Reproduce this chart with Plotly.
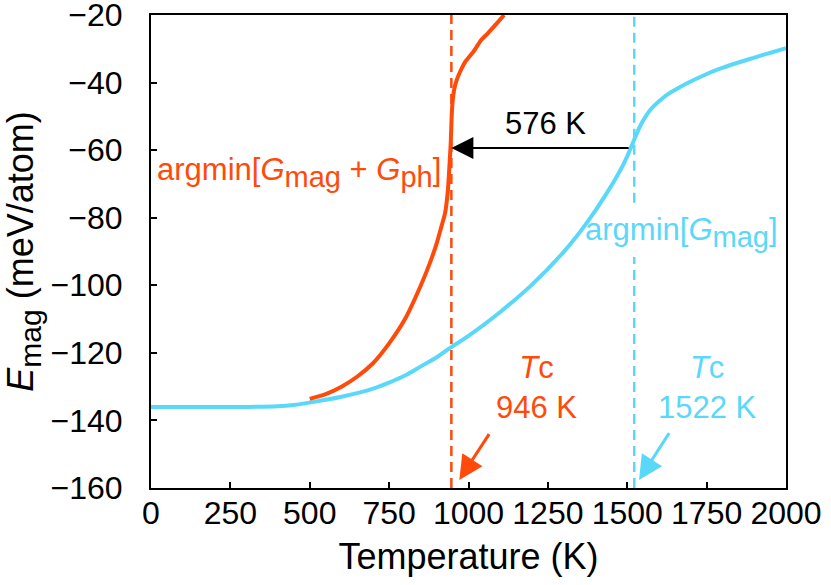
import plotly.graph_objects as go

# ---- data ----
T_mag = [0, 100, 200, 300, 400, 450, 500, 600, 700, 750, 800, 850, 900, 946, 1000,
         1100, 1200, 1300, 1372, 1435, 1488, 1540, 1560, 1577, 1600, 1624, 1650,
         1687, 1740, 1792, 1900, 2000]
E_mag = [-136, -136, -136, -136, -135.8, -135.4, -134.7, -133.0, -130.6, -128.8,
         -126.7, -124.0, -121.3, -118.3, -115.0, -107.9, -99.8, -90.1, -81.6, -72.8,
         -64.2, -53.0, -49.7, -47.6, -45.5, -43.7, -42.2, -40.3, -37.9, -35.9,
         -32.6, -29.8]

T_ph = [500, 550, 600, 650, 700, 750, 800, 850, 880, 900, 915, 926, 935, 941, 944,
        947, 950, 955, 963, 975, 990, 1015, 1040, 1060, 1089, 1112]
E_ph = [-133.6, -132.2, -130.0, -127.0, -123.0, -117.2, -110.0, -100.0, -93.0, -87.5,
        -82.5, -78.7, -72.0, -63.0, -58.0, -50.0, -45.5, -42.0, -39.2, -36.5, -33.8,
        -30.9, -27.4, -25.5, -22.5, -20.0]

Tc_ph = 946
Tc_mag = 1522
T_arrow_tail = 1509
E_arrow = -59.4
shift_label = "576 K"
label_gap = (-91.6, -75.6)   # where the cyan dashed line is hidden by its label

x_ticks = [0, 250, 500, 750, 1000, 1250, 1500, 1750, 2000]
y_ticks = [-160, -140, -120, -100, -80, -60, -40, -20]

ORANGE = "#FF4A0A"
CYAN = "#5AD8FA"
FONT = "Liberation Sans, Arial, Helvetica, sans-serif"
SUB = '<sub><span style="font-size:29px">%s</span></sub>'

fig = go.Figure()

# dashed vertical Tc lines
fig.add_trace(go.Scatter(x=[Tc_ph, Tc_ph], y=[-160, -20], mode="lines",
                         line=dict(color=ORANGE, width=2.5, dash="10px,6px"),
                         hoverinfo="skip", showlegend=False))
fig.add_trace(go.Scatter(x=[Tc_mag, Tc_mag, None, Tc_mag, Tc_mag],
                         y=[-160, label_gap[0], None, label_gap[1], -20], mode="lines",
                         line=dict(color=CYAN, width=2.5, dash="10px,6px"),
                         hoverinfo="skip", showlegend=False))

fig.add_trace(go.Scatter(x=T_mag, y=E_mag, mode="lines",
                         line=dict(color=CYAN, width=4, shape="spline", smoothing=1.0),
                         showlegend=False))
fig.add_trace(go.Scatter(x=T_ph, y=E_ph, mode="lines",
                         line=dict(color=ORANGE, width=4, shape="spline", smoothing=0.5),
                         showlegend=False))

ann = []
# shift arrow
ann.append(dict(x=Tc_ph, y=E_arrow, ax=T_arrow_tail, ay=E_arrow, axref="x", ayref="y",
                xref="x", yref="y", text="", showarrow=True, arrowhead=2,
                arrowsize=2.2, arrowwidth=2, arrowcolor="black"))
ann.append(dict(x=1244, y=-52.1, xref="x", yref="y", text=shift_label,
                showarrow=False, font=dict(size=31, color="black", family=FONT)))
# curve labels
ann.append(dict(x=920, y=-66.5, xref="x", yref="y", xanchor="right",
                text="argmin[<i>G</i>" + SUB % "mag" + " + <i>G</i>" + SUB % "ph" + "]",
                showarrow=False, font=dict(size=31, color=ORANGE, family=FONT)))
ann.append(dict(x=1671, y=-84.5, xref="x", yref="y",
                text="argmin[<i>G</i>" + SUB % "mag" + "]",
                showarrow=False, font=dict(size=31, color=CYAN, family=FONT)))
# Tc labels
ann.append(dict(x=1215, y=-130.4, xref="x", yref="y",
                text="<i>T</i>c<br>%d K" % Tc_ph,
                showarrow=False, font=dict(size=31, color=ORANGE, family=FONT)))
ann.append(dict(x=1754, y=-130.4, xref="x", yref="y",
                text="<i>T</i>c<br>%d K" % Tc_mag,
                showarrow=False, font=dict(size=31, color=CYAN, family=FONT)))
# Tc pointer arrows
ann.append(dict(x=971, y=-157.6, ax=1068, ay=-143.6, axref="x", ayref="y",
                xref="x", yref="y", text="", showarrow=True, arrowhead=2,
                arrowsize=1.6, arrowwidth=3, arrowcolor=ORANGE))
ann.append(dict(x=1537, y=-157.6, ax=1635, ay=-143.3, axref="x", ayref="y",
                xref="x", yref="y", text="", showarrow=True, arrowhead=2,
                arrowsize=1.6, arrowwidth=3, arrowcolor=CYAN))

fig.update_layout(
    width=831, height=585,
    margin=dict(l=151, r=45, t=15, b=97),
    plot_bgcolor="white", paper_bgcolor="white",
    font=dict(family=FONT, color="black", size=32),
    annotations=ann,
    showlegend=False,
)
fig.update_xaxes(range=[0, 2000], tickvals=x_ticks, ticks="inside", ticklen=6,
                 tickwidth=2, tickcolor="black", showline=True, linewidth=2,
                 linecolor="black", mirror=True, showgrid=False, zeroline=False,
                 automargin=False,
                 tickfont=dict(size=32), ticklabelstandoff=-4, ticklabeloverflow="allow",
                 title=dict(text="Temperature (K)", font=dict(size=36), standoff=13))
fig.update_yaxes(range=[-160, -20], tickvals=y_ticks, ticks="inside", ticklen=6,
                 tickwidth=2, tickcolor="black", showline=True, linewidth=2,
                 linecolor="black", mirror=True, showgrid=False, zeroline=False,
                 automargin=False,
                 tickfont=dict(size=32), ticklabelstandoff=20, ticklabeloverflow="allow",
                 title=dict(text="<i>E</i>" + '<sub><span style="font-size:30px">mag</span></sub>'
                            + " (meV/atom)", font=dict(size=36), standoff=24))

fig.write_html("out.html", config={"displayModeBar": False},
               post_script="document.body.style.margin='0px';document.body.style.padding='0px';")
